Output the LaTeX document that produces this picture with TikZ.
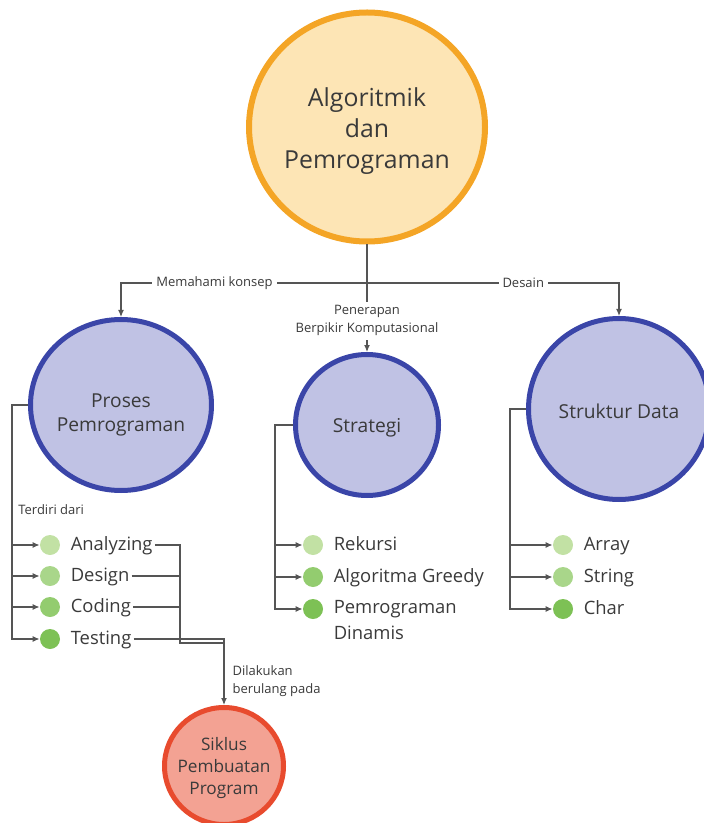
\documentclass[tikz,border=0pt]{standalone}
\usepackage{fontspec}
\setmainfont{Open Sans}
\usetikzlibrary{positioning}
\usetikzlibrary{shapes.geometric}
\usetikzlibrary{arrows.meta}
\usetikzlibrary{math}

\definecolor{txtgray}{HTML}{3A3A3A}
\definecolor{linegray}{HTML}{555555}
\definecolor{topfill}{HTML}{FDE5B5}
\definecolor{topline}{HTML}{F4A526}
\definecolor{subfill}{HTML}{C0C2E4}
\definecolor{subline}{HTML}{3A45A8}
\definecolor{redfill}{HTML}{F3A293}
\definecolor{redline}{HTML}{E84B2E}
\definecolor{greenA}{HTML}{C2E1A4}
\definecolor{greenB}{HTML}{A9D68A}
\definecolor{greenC}{HTML}{93CC6F}
\definecolor{greenD}{HTML}{7DC155}

\tikzset{
    topic/.style={ellipse, draw, inner sep=0pt},
    topictext/.style={text=txtgray, align=center, inner sep=0pt},
    subtopic/.style={topic, fill=subfill, draw=subline, line width=2.5pt},
    subtext/.style={topictext, font=\fontsize{9.6}{12}\selectfont},
    bullet/.style={circle, minimum size=10pt, inner sep=0pt},
    itemlines/.style={text=txtgray, font=\fontsize{9.2}{13}\selectfont,
        inner sep=1pt, align=left},
    itemtext/.style={itemlines, text height=9.1pt, text depth=3.9pt},
    conn/.style={linegray, line width=0.6pt},
    arrow/.style={conn, -{Latex[length=3.5pt,width=3pt]}},
    note/.style={text=txtgray, font=\fontsize{6.5}{9}\selectfont, inner sep=2pt},
}

\begin{document}
\begin{tikzpicture}[x=0.5pt, y=-0.5pt]

% Position settings
\tikzmath{
    \CenterX = 367;
    \RailP = 12;
    \RailS = 275;
    \RailD = 510;
    \JoinX = 180;
    \MergeX = 224;
    \MergeY = 643;
}

\useasboundingbox (0,0) rectangle (703,823);

% Main topics
\node[topic, fill=topfill, draw=topline, line width=3pt,
    minimum width=118pt, minimum height=114.5pt,
    label={[topictext, font=\fontsize{12.4}{15.5}\selectfont, yshift=-2pt]center:Algoritmik\\dan\\Pemrograman}]
    (algo) at (\CenterX,127) {};
\node[subtopic, minimum width=90.5pt, minimum height=85.5pt,
    label={[subtext, yshift=-5pt]center:Proses\\Pemrograman}] (proses) at (121,405) {};
\node[subtopic, minimum width=71.5pt, minimum height=70.5pt,
    label={[subtext, yshift=-1.5pt]center:Strategi}] (strat) at (\CenterX,425) {};
\node[subtopic, minimum width=90.5pt, minimum height=90.5pt,
    label={[subtext, yshift=-1pt]center:Struktur Data}] (struk) at (619,409) {};
\node[topic, fill=redfill, draw=redline, line width=2.5pt,
    minimum width=59.5pt, minimum height=58.5pt,
    label={[topictext, font=\fontsize{8.6}{10.8}\selectfont, yshift=-1pt]center:Siklus\\Pembuatan\\Program}]
    (siklus) at (\MergeX,766) {};

% Draws top connectors
\coordinate (junc) at (\CenterX,283);
\draw [conn] (algo) -- (junc);
\draw [arrow] (junc) -| node[note, fill=white, pos=0.31] (lblkonsep) {Memahami konsep} (proses);
\draw [arrow] (junc) -| node[note, fill=white, pos=0.31] (lbldesain) {Desain} (struk);
\draw [arrow] (algo) -- node[note, fill=white, align=center, pos=0.71] (lblterap)
    {Penerapan\\Berpikir Komputasional} (strat);

% Proses Pemrograman items
\node[bullet, fill=greenA] (bPA) at (50,545) {};
\node[bullet, fill=greenB] (bPB) at (50,576) {};
\node[bullet, fill=greenC] (bPC) at (50,607) {};
\node[bullet, fill=greenD] (bPD) at (50,639) {};
\node[itemtext, right=4pt of bPA] (tPA) {Analyzing};
\node[itemtext, right=4pt of bPB] (tPB) {Design};
\node[itemtext, right=4pt of bPC] (tPC) {Coding};
\node[itemtext, right=4pt of bPD] (tPD) {Testing};

\coordinate (railP) at (\RailP,405);
\draw [arrow] (proses.west) -- (railP) |- (bPA);
\draw [arrow] (railP) |- (bPB);
\draw [arrow] (railP) |- (bPC);
\draw [arrow] (railP) |- (bPD);
\node[note, anchor=west] (lblterdiri) at (14,510) {Terdiri dari};

% Draws loop into Siklus
\coordinate (joinP) at (\JoinX,\MergeY);
\coordinate (mergeP) at (\MergeX,\MergeY);
\draw [conn] (tPA.east) -| (joinP) -- (mergeP);
\draw [conn] (tPB.east) -- (tPB.east -| joinP);
\draw [conn] (tPC.east) -- (tPC.east -| joinP);
\draw [arrow] (tPD.east) -| node[note, right=2pt, align=left, pos=0.82] (lblulang)
    {Dilakukan\\berulang pada} (siklus.north);

% Strategi items
\node[bullet, fill=greenA] (bSA) at (313,545) {};
\node[bullet, fill=greenC] (bSB) at (313,577) {};
\node[bullet, fill=greenD] (bSC) at (313,609) {};
\node[itemtext, right=4pt of bSA] (tSA) {Rekursi};
\node[itemtext, right=4pt of bSB] (tSB) {Algoritma Greedy};
\node[itemlines, right=4pt of bSC, yshift=-5.7pt] (tSC) {Pemrograman\\Dinamis};

\coordinate (railS) at (\RailS,425);
\draw [arrow] (strat.west) -- (railS) |- (bSA);
\draw [arrow] (railS) |- (bSB);
\draw [arrow] (railS) |- (bSC);

% Struktur Data items
\node[bullet, fill=greenA] (bDA) at (563,545) {};
\node[bullet, fill=greenB] (bDB) at (563,577) {};
\node[bullet, fill=greenD] (bDC) at (563,609) {};
\node[itemtext, right=4pt of bDA] (tDA) {Array};
\node[itemtext, right=4pt of bDB] (tDB) {String};
\node[itemtext, right=4pt of bDC] (tDC) {Char};

\coordinate (railD) at (\RailD,409);
\draw [arrow] (struk.west) -- (railD) |- (bDA);
\draw [arrow] (railD) |- (bDB);
\draw [arrow] (railD) |- (bDC);

\end{tikzpicture}
\end{document}
